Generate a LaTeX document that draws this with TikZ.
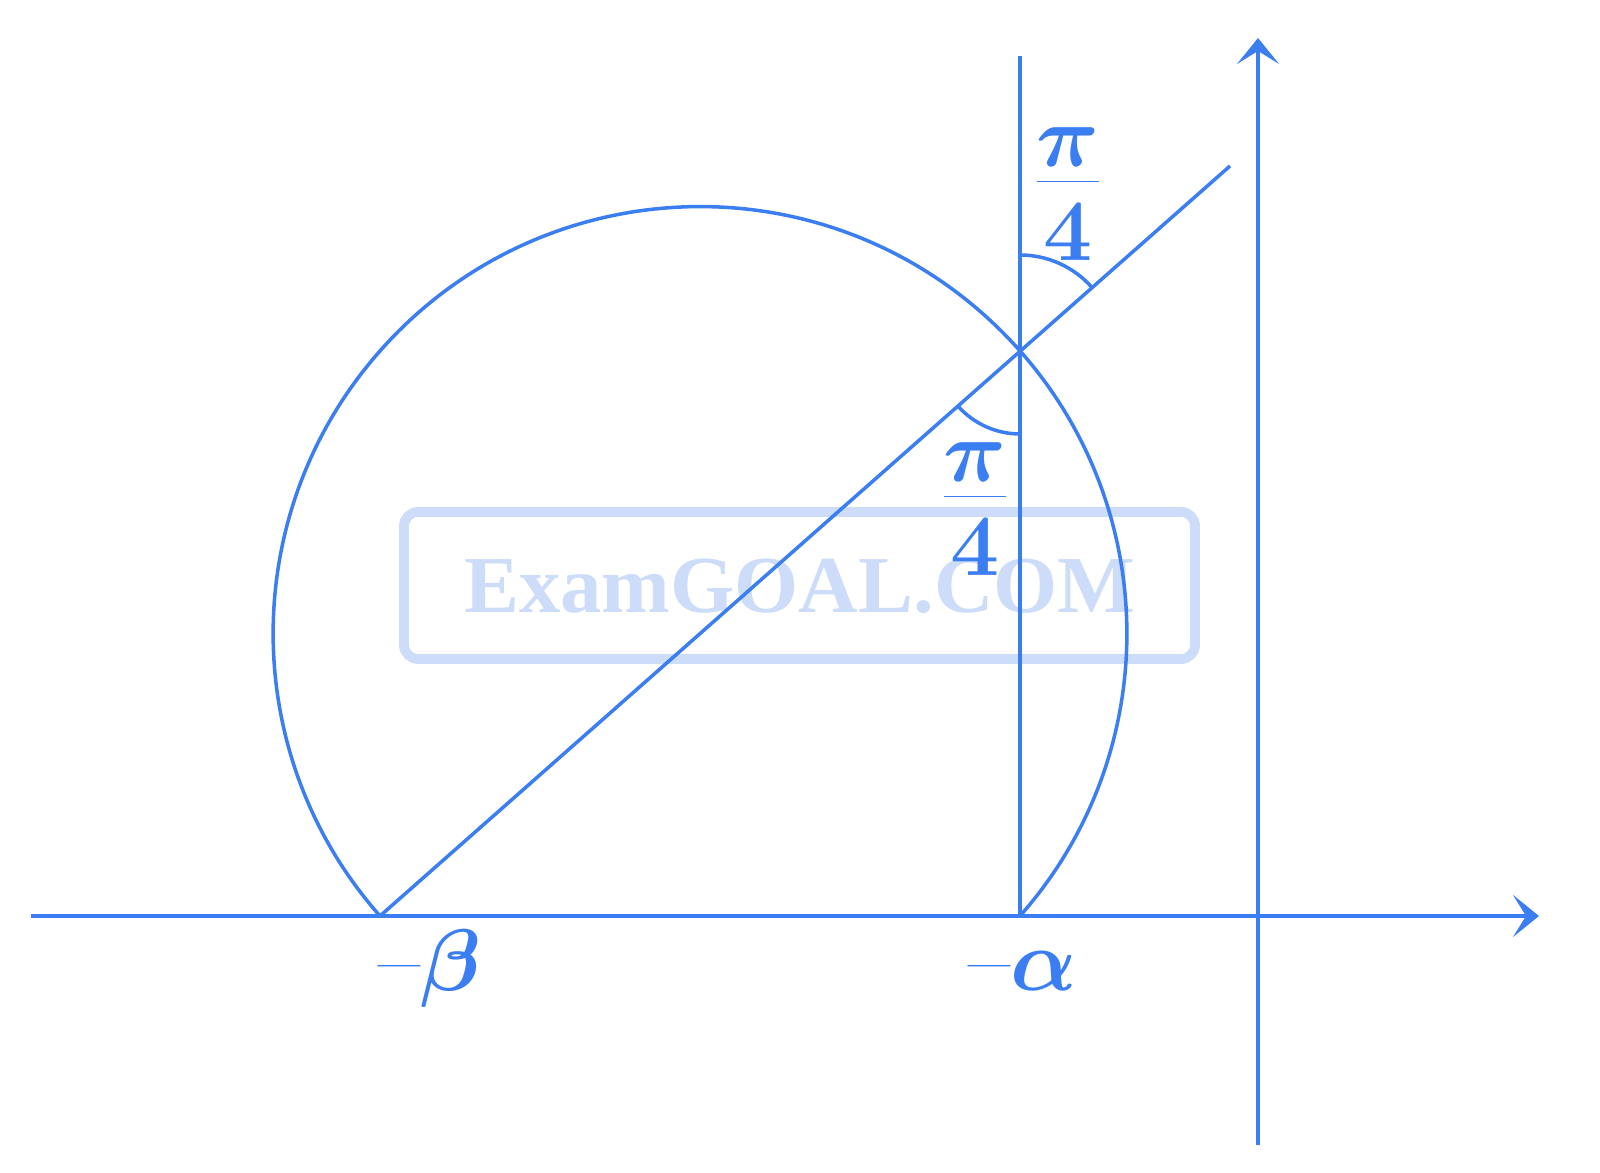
\documentclass[tikz,border=0pt]{standalone}
\usepackage{fontspec}
\newfontfamily\markfont{Liberation Serif}
\definecolor{primary}{HTML}{3B7EF2}
\definecolor{faint}{HTML}{CDDCF8}
\usetikzlibrary{
    arrows.meta,
    calc,
    positioning,
}
\tikzset{>={Stealth[length=2.6mm,width=4.2mm,inset=1.3mm]}}
\newcommand{\quarterpi}{$\textstyle\frac{\displaystyle\pi}{\displaystyle\rule{0pt}{0.95em}4}$}

\begin{document}
\begin{tikzpicture}[line width=1pt,draw=primary,text=primary]
            \useasboundingbox (0,0) rectangle (16,11.73);
            \draw[faint,line width=2.8pt,rounded corners=4pt] (4.04,5.14) rectangle (11.95,6.61);
            \node[text=faint,font=\markfont\bfseries\fontsize{23}{23}\selectfont,xscale=1.02] (mark) at (8.00,5.87) {ExamGOAL.COM};
            \coordinate (negbeta) at (3.80,2.57);
            \coordinate (negalpha) at (10.20,2.57);
            \coordinate (meet) at (10.20,8.22);
            \coordinate (xstart) at (0.31,2.57);
            \coordinate (xend) at (15.39,2.57);
            \coordinate (ystart) at (12.58,0.28);
            \coordinate (yend) at (12.58,11.35);
            \coordinate (vtop) at (10.20,11.17);
            \coordinate (ltop) at (12.30,10.07);
            \draw[->,line width=1.3pt] (xstart) -- (xend);
            \draw[->,line width=1.3pt] (ystart) -- (yend);
            \draw (negalpha) -- (vtop);
            \draw (negbeta) -- (ltop);
            \draw (negalpha) arc[start angle=-41.44,end angle=221.44,radius=4.269cm];
            \draw ($(meet)+(0,0.96)$) arc[start angle=90,end angle=41.44,radius=0.96cm];
            \draw ($(meet)+(221.44:0.83)$) arc[start angle=221.44,end angle=270,radius=0.83cm];
            \node[font=\boldmath\fontsize{23}{27}\selectfont] (pitop) at (10.68,9.79) {\quarterpi};
            \node[font=\boldmath\fontsize{23}{27}\selectfont] (pilow) at (9.75,6.64) {\quarterpi};
            \node[font=\boldmath\fontsize{26}{30}\selectfont] (betalabel) at (4.30,2.04) {--$\beta$};
            \node[font=\boldmath\fontsize{26}{30}\selectfont] (alphalabel) at (10.23,2.02) {--$\alpha$};
        \end{tikzpicture}
\end{document}
